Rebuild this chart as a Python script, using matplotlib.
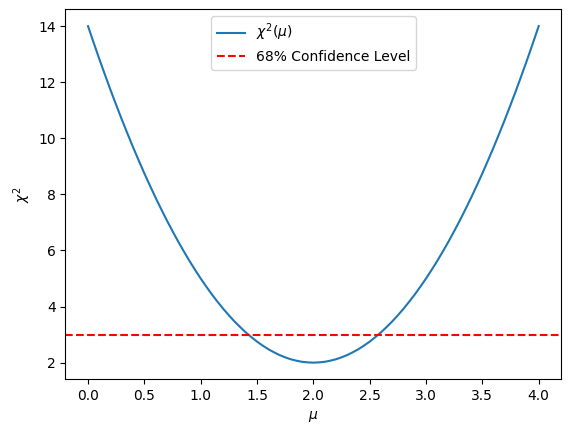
import matplotlib
matplotlib.use("Agg")
import matplotlib.pyplot as plt

mu = [0.0, 0.05, 0.1, 0.15, 0.2, 0.25, 0.3, 0.35, 0.4, 0.45, 0.5,
      0.55, 0.6, 0.65, 0.7, 0.75, 0.8, 0.85, 0.9, 0.95, 1.0,
      1.05, 1.1, 1.15, 1.2, 1.25, 1.3, 1.35, 1.4, 1.45, 1.5,
      1.55, 1.6, 1.65, 1.7, 1.75, 1.8, 1.85, 1.9, 1.95, 2.0,
      2.05, 2.1, 2.15, 2.2, 2.25, 2.3, 2.35, 2.4, 2.45, 2.5,
      2.55, 2.6, 2.65, 2.7, 2.75, 2.8, 2.85, 2.9, 2.95, 3.0,
      3.05, 3.1, 3.15, 3.2, 3.25, 3.3, 3.35, 3.4, 3.45, 3.5,
      3.55, 3.6, 3.65, 3.7, 3.75, 3.8, 3.85, 3.9, 3.95, 4.0]
chi2 = [14.0, 13.41, 12.83, 12.27, 11.72, 11.19, 10.67, 10.17, 9.68, 9.21, 8.75,
        8.31, 7.88, 7.47, 7.07, 6.69, 6.32, 5.97, 5.63, 5.31, 5.0,
        4.71, 4.43, 4.17, 3.92, 3.69, 3.47, 3.27, 3.08, 2.91, 2.75,
        2.61, 2.48, 2.37, 2.27, 2.19, 2.12, 2.07, 2.03, 2.01, 2.0,
        2.01, 2.03, 2.07, 2.12, 2.19, 2.27, 2.37, 2.48, 2.61, 2.75,
        2.91, 3.08, 3.27, 3.47, 3.69, 3.92, 4.17, 4.43, 4.71, 5.0,
        5.31, 5.63, 5.97, 6.32, 6.69, 7.07, 7.47, 7.88, 8.31, 8.75,
        9.21, 9.68, 10.17, 10.67, 11.19, 11.72, 12.27, 12.83, 13.41, 14.0]
conf_level = 3.0

fig = plt.figure(figsize=(5.7, 4.33), dpi=100)
ax = fig.add_axes([0.1149, 0.1236, 0.8697, 0.8549])
ax.plot(mu, chi2, label=r'$\chi^2(\mu)$')
ax.axhline(conf_level, color='r', linestyle='--', label='68% Confidence Level')
ax.set_xlabel(r'$\mu$')
ax.set_ylabel(r'$\chi^2$')
ax.legend(loc='upper center')
fig.savefig("out.png", dpi=100)
